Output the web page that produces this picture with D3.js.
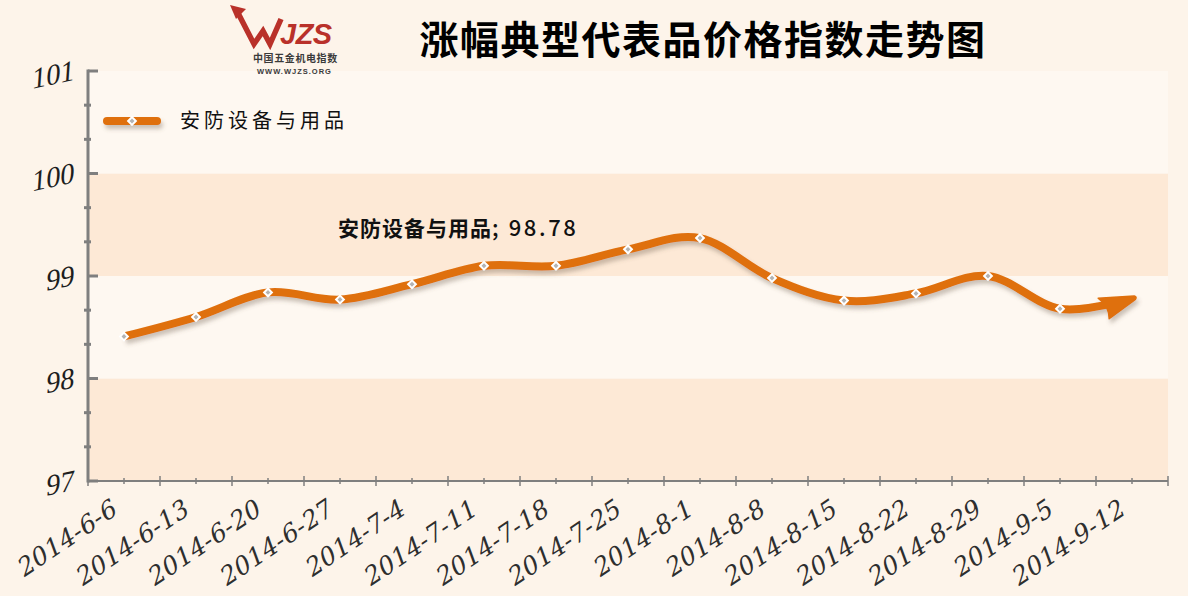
<!DOCTYPE html>
<html><head><meta charset="utf-8">
<script src="https://cdn.jsdelivr.net/npm/d3@7"></script>
<style>
html,body{margin:0;padding:0;background:#fdf4ea;}
svg{display:block;}
</style></head>
<body>
<svg id="chart" width="1188" height="596"></svg>
<script>
const categories = ['2014-6-6','2014-6-13','2014-6-20','2014-6-27','2014-7-4','2014-7-11','2014-7-18','2014-7-25','2014-8-1','2014-8-8','2014-8-15','2014-8-22','2014-8-29','2014-9-5','2014-9-12'];
const seriesName = '安防设备与用品';
const values = [98.41, 98.60, 98.84, 98.77, 98.92, 99.10, 99.10, 99.26, 99.37, 98.98, 98.76, 98.83, 99.00, 98.68, 98.78];
const yTicks = [97, 98, 99, 100, 101];
const title = '涨幅典型代表品价格指数走势图';

const svg = d3.select('#chart');
const W = 1188, H = 596;
const plot = {left: 88, right: 1168, top: 71, bottom: 481};
const orange = '#df6f0b';
const axisGray = '#7f7f7f';

svg.append('rect').attr('width', W).attr('height', H).attr('fill', '#fdf4ea');

const defs = svg.append('defs');
const f = defs.append('filter').attr('id', 'shadow').attr('filterUnits', 'userSpaceOnUse')
  .attr('x', 0).attr('y', 0).attr('width', W).attr('height', H);
f.append('feDropShadow').attr('dx', 2).attr('dy', 4).attr('stdDeviation', 2.2)
  .attr('flood-color', '#6b5a4a').attr('flood-opacity', 0.35);

const x = d3.scaleBand().domain(categories).range([plot.left, plot.right]);
const y = d3.scaleLinear().domain([97, 101]).range([plot.bottom, plot.top]);

// bands
const bandColors = ['#fde9d6', '#fef8f1'];
d3.range(97, 101).forEach((v, i) => {
  svg.append('rect').attr('x', plot.left).attr('width', plot.right - plot.left)
    .attr('y', y(v + 1)).attr('height', y(v) - y(v + 1))
    .attr('fill', bandColors[i % 2]);
});

// title
svg.append('text').attr('x', 703).attr('y', 54).attr('text-anchor', 'middle')
  .attr('font-family', '"Noto Sans CJK SC", sans-serif').attr('font-weight', 700)
  .attr('font-size', 39).attr('letter-spacing', 1.5).attr('fill', '#000').text(title);

// logo
const logo = svg.append('g');
logo.append('polyline').attr('points', '238,13 254,44 263,31 270,44 281,19')
  .attr('fill', 'none').attr('stroke', '#b9312a').attr('stroke-width', 5.5).attr('stroke-linejoin', 'miter');
logo.append('path').attr('d', 'M230,5 L246,9 L236,19 Z').attr('fill', '#b9312a');
logo.append('text').attr('x', 280).attr('y', 44).attr('font-family', '"Liberation Sans", Arial, sans-serif')
  .attr('font-style', 'italic').attr('font-weight', 700).attr('font-size', 29).attr('fill', '#b9312a')
  .attr('letter-spacing', -0.5).text('JZS');
logo.append('text').attr('x', 253).attr('y', 62).attr('font-family', '"Noto Sans CJK SC", sans-serif')
  .attr('font-weight', 700).attr('font-size', 10).attr('letter-spacing', 0.6).attr('fill', '#3a3a3a').text('中国五金机电指数');
logo.append('text').attr('x', 257).attr('y', 74).attr('font-family', '"Liberation Sans", Arial, sans-serif')
  .attr('font-weight', 700).attr('font-size', 7.5).attr('letter-spacing', 1).attr('fill', '#3a3a3a').text('WWW.WJZS.ORG');

// y axis
const yAxis = svg.append('g');
yAxis.append('line').attr('x1', plot.left).attr('x2', plot.left).attr('y1', plot.top - 1.5).attr('y2', plot.bottom + 1.5)
  .attr('stroke', axisGray).attr('stroke-width', 3);
d3.range(0, 13).forEach(i => {
  const v = 97 + i / 3;
  if (i % 3 === 0) {
    yAxis.append('line').attr('x1', plot.left).attr('x2', plot.left + 10).attr('y1', y(v)).attr('y2', y(v))
      .attr('stroke', axisGray).attr('stroke-width', 3);
  } else {
    yAxis.append('line').attr('x1', plot.left - 4).attr('x2', plot.left + 3).attr('y1', y(v)).attr('y2', y(v))
      .attr('stroke', axisGray).attr('stroke-width', 3);
  }
});
yTicks.forEach(v => {
  const yy = y(v) + 9;
  yAxis.append('text').attr('text-anchor', 'end')
    .attr('transform', `translate(74,${yy}) rotate(-12) skewX(-16)`)
    .attr('font-family', '"Liberation Serif", "Times New Roman", serif')
    .attr('font-size', 29).attr('fill', '#1e1e1e').text(String(v));
});

// x axis
const xAxis = svg.append('g');
xAxis.append('line').attr('x1', plot.left).attr('x2', plot.right).attr('y1', plot.bottom).attr('y2', plot.bottom)
  .attr('stroke', axisGray).attr('stroke-width', 2);
categories.forEach((c, i) => {
  const b = x(c);
  xAxis.append('line').attr('x1', b).attr('x2', b).attr('y1', plot.bottom - 5).attr('y2', plot.bottom + 5)
    .attr('stroke', axisGray).attr('stroke-width', 1.5);
  const cx = b + x.bandwidth() / 2;
  xAxis.append('line').attr('x1', cx).attr('x2', cx).attr('y1', plot.bottom - 3).attr('y2', plot.bottom + 3)
    .attr('stroke', axisGray).attr('stroke-width', 1.5);
});
xAxis.append('line').attr('x1', plot.right).attr('x2', plot.right).attr('y1', plot.bottom - 5).attr('y2', plot.bottom + 5)
  .attr('stroke', axisGray).attr('stroke-width', 1.5);
categories.forEach(c => {
  const cx = x(c) + x.bandwidth() / 2 - 6;
  const ty = 514;
  xAxis.append('text').attr('text-anchor', 'end')
    .attr('transform', `translate(${cx},${ty}) rotate(-34) skewX(-14)`)
    .attr('font-family', '"DejaVu Serif", serif')
    .attr('font-size', 25).attr('letter-spacing', 0.3).attr('fill', '#2e2e2e').text(c);
});

// line
const pts = categories.map((c, i) => [x(c) + x.bandwidth() / 2, y(values[i])]);
const line = d3.line().curve(d3.curveCardinal.tension(0));
const lineG = svg.append('g').attr('filter', 'url(#shadow)');
const path = lineG.append('path').attr('d', line(pts)).attr('fill', 'none').attr('stroke', orange)
  .attr('stroke-width', 8).attr('stroke-linecap', 'butt');
const len = path.node().getTotalLength();
path.attr('stroke-dasharray', `${len - 16} 2000`);
const pEnd = path.node().getPointAtLength(len);
const pPrev = path.node().getPointAtLength(len - 6);
const ang = Math.atan2(pEnd.y - pPrev.y, pEnd.x - pPrev.x) * 180 / Math.PI;
lineG.append('path')
  .attr('transform', `translate(${pEnd.x},${pEnd.y}) rotate(${ang - 3}) translate(3,0)`)
  .attr('d', 'M0,-1.8 Q2.5,0 0,1.8 L-31,12 Q-27,0 -35,-11 Z')
  .attr('fill', orange).attr('stroke', orange).attr('stroke-width', 1.5).attr('stroke-linejoin', 'round');

// markers (all but last)
svg.append('g').selectAll('path').data(pts.slice(0, -1)).join('path')
  .attr('d', d3.symbol().type(d3.symbolSquare).size(30))
  .attr('transform', d => `translate(${d[0]},${d[1]}) rotate(45)`)
  .attr('fill', '#b3b3b3').attr('stroke', '#fff').attr('stroke-width', 2);

// data label for last point
const lastIdx = values.length - 1;
const lbl = svg.append('text').attr('x', x(categories[3]) + x.bandwidth() / 2 - 2).attr('y', y(99.5) + 11)
  .attr('font-family', '"Noto Sans CJK SC", sans-serif').attr('font-weight', 700)
  .attr('font-size', 21).attr('fill', '#111');
lbl.append('tspan').attr('letter-spacing', 1).text(seriesName);
lbl.append('tspan').attr('font-size', 22).attr('font-weight', 500).attr('letter-spacing', 2.6)
  .text(`; ${values[lastIdx].toFixed(2)}`);

// legend
const lg = svg.append('g');
const ly = 121;
lg.append('line').attr('x1', 107).attr('x2', 157).attr('y1', ly).attr('y2', ly)
  .attr('stroke', orange).attr('stroke-width', 8).attr('stroke-linecap', 'round').attr('filter', 'url(#shadow)');
lg.append('path').attr('d', d3.symbol().type(d3.symbolSquare).size(30))
  .attr('transform', `translate(132,${ly}) rotate(45)`).attr('fill', '#b3b3b3').attr('stroke', '#fff').attr('stroke-width', 2);
lg.append('text').attr('x', 180).attr('y', ly).attr('dy', '0.36em')
  .attr('font-family', '"Noto Sans CJK SC", sans-serif').attr('font-size', 20).attr('letter-spacing', 4)
  .attr('fill', '#111').text(seriesName);
</script>
</body></html>
